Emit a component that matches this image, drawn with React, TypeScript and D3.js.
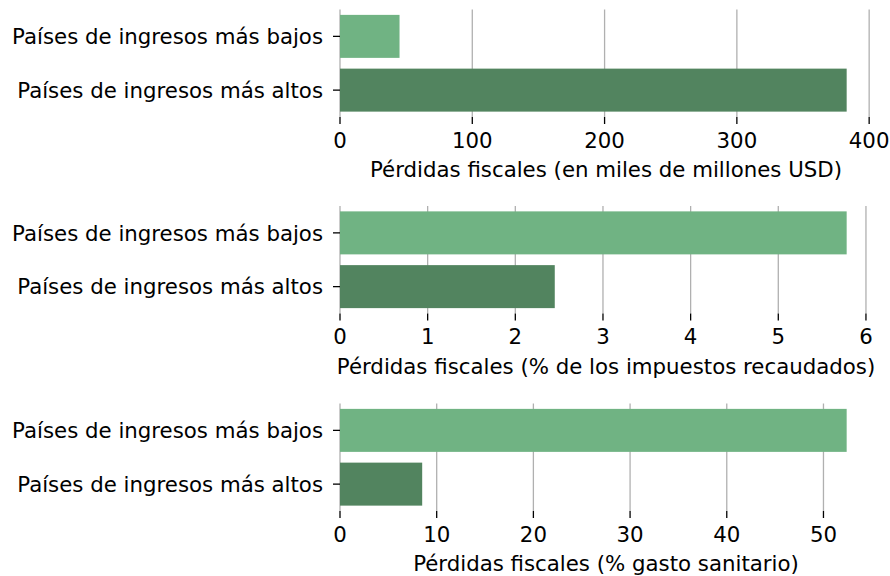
import React from "react";
import * as d3 from "d3";

const categories = ["Países de ingresos más bajos", "Países de ingresos más altos"];
const lossesUSD = [45, 383];
const lossesPctTax = [5.78, 2.45];
const lossesPctHealth = [52.4, 8.5];
const ticksUSD = [0, 100, 200, 300, 400];
const ticksPctTax = [0, 1, 2, 3, 4, 5, 6];
const ticksPctHealth = [0, 10, 20, 30, 40, 50];
const titles = [
  "Pérdidas fiscales (en miles de millones USD)",
  "Pérdidas fiscales (% de los impuestos recaudados)",
  "Pérdidas fiscales (% gasto sanitario)",
];
const barColors = ["#70b383", "#52845f"];

const panels = [
  { values: lossesUSD, ticks: ticksUSD, title: titles[0] },
  { values: lossesPctTax, ticks: ticksPctTax, title: titles[1] },
  { values: lossesPctHealth, ticks: ticksPctHealth, title: titles[2] },
];

const W = 890;
const H = 576;
const left = 340;
const right = 872;
const panelTops = [9.5, 206, 403.5];
const panelH = 107.5;
const font = "'DejaVu Sans', Verdana, sans-serif";
const fs = 21.3;

function Panel({ p, top }: { p: typeof panels[number]; top: number }) {
  const max = d3.max(p.values) as number;
  const x = d3.scaleLinear().domain([0, max * 1.05]).range([left, right]);
  const y = d3.scaleBand<string>().domain(categories).range([top, top + panelH]).paddingInner(0.2).paddingOuter(0.1);
  const bottom = top + panelH;
  return (
    <g>
      {p.ticks.map((t) => (
        <line key={"g" + t} x1={x(t)} x2={x(t)} y1={top} y2={bottom} stroke="#b0b0b0" strokeWidth={1.3} />
      ))}
      {categories.map((c, i) => (
        <rect key={c} x={x(0)} y={y(c)} width={x(p.values[i]) - x(0)} height={y.bandwidth()} fill={barColors[i]} />
      ))}
      {p.ticks.map((t) => (
        <g key={"t" + t}>
          <line x1={x(t)} x2={x(t)} y1={bottom} y2={bottom + 7} stroke="#000" strokeWidth={1.3} />
          <text x={x(t)} y={bottom + 30.5} textAnchor="middle" fontSize={fs} fontFamily={font} fill="#000">
            {t}
          </text>
        </g>
      ))}
      {categories.map((c) => {
        const cy = (y(c) as number) + y.bandwidth() / 2;
        return (
          <g key={"y" + c}>
            <line x1={left - 7} x2={left} y1={cy} y2={cy} stroke="#000" strokeWidth={1.3} />
            <text x={left - 17} y={cy} dy="0.36em" textAnchor="end" fontSize={fs} fontFamily={font} fill="#000">
              {c}
            </text>
          </g>
        );
      })}
      <text x={(left + right) / 2} y={bottom + 60} textAnchor="middle" fontSize={fs} fontFamily={font} fill="#000">
        {p.title}
      </text>
    </g>
  );
}

export default function App() {
  return (
    <svg width={W} height={H} style={{ position: "absolute", left: 0, top: 0, background: "#fff" }}>
      <rect width={W} height={H} fill="#fff" />
      {panels.map((p, i) => (
        <Panel key={i} p={p} top={panelTops[i]} />
      ))}
    </svg>
  );
}
